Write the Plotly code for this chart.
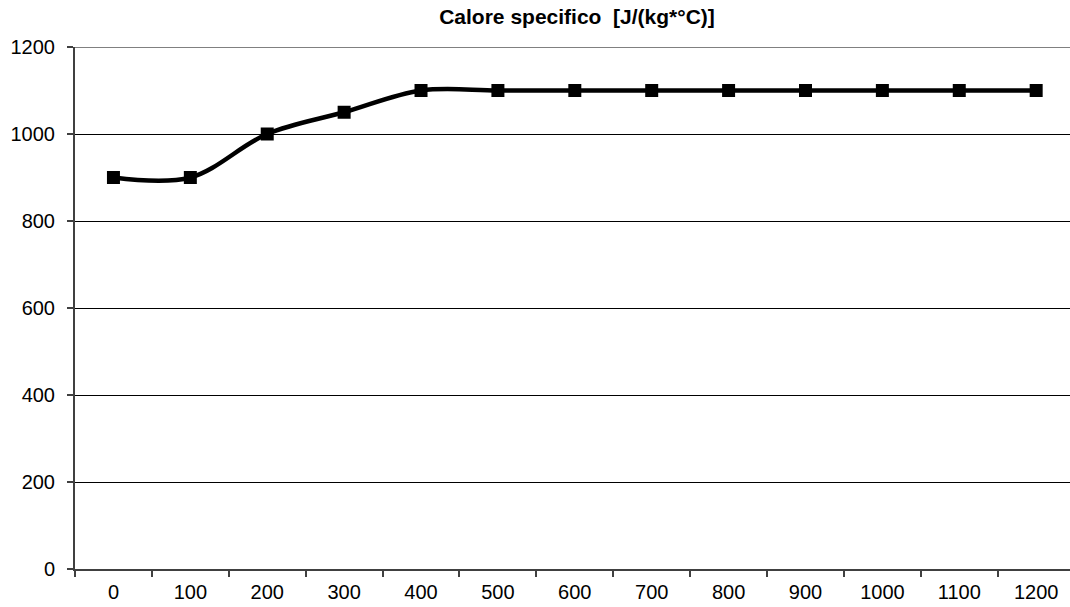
import plotly.graph_objects as go

categories = ["0", "100", "200", "300", "400", "500", "600", "700", "800", "900", "1000", "1100", "1200"]
calore = [900, 900, 1000, 1050, 1100, 1100, 1100, 1100, 1100, 1100, 1100, 1100, 1100]
y_ticks = [0, 200, 400, 600, 800, 1000, 1200]

fig = go.Figure()
fig.add_trace(go.Scatter(
    x=categories, y=calore, mode="lines+markers",
    line=dict(color="black", width=4.5, shape="spline", smoothing=1.0),
    marker=dict(symbol="square", size=13, color="black"),
    showlegend=False,
))

fig.update_layout(
    width=1070, height=607,
    margin=dict(l=75, r=0, t=47, b=38),
    paper_bgcolor="white", plot_bgcolor="white",
    font=dict(family="Liberation Sans, Arial, sans-serif", size=20, color="black"),
    title=dict(text="<b>Calore specifico  [J/(kg*°C)]</b>", x=577/1070, xanchor="center",
               y=1 - 17/607, yanchor="middle", font=dict(size=21)),
    xaxis=dict(type="category", range=[-0.5, 12.44], tickson="boundaries",
               ticks="outside", ticklen=6, tickcolor="#404040", tickwidth=1.5,
               showline=True, linecolor="#404040", linewidth=2, showgrid=False,
               zeroline=False, tickfont=dict(size=20), ticklabelstandoff=4),
    yaxis=dict(range=[0, 1200], tickvals=y_ticks, ticks="outside", ticklen=6,
               tickcolor="#404040", tickwidth=1.5, showline=True, linecolor="#404040",
               linewidth=2, showgrid=True, gridcolor="black", gridwidth=1,
               zeroline=False, tickfont=dict(size=20), ticklabelstandoff=8),
    shapes=[dict(type="line", xref="paper", yref="y", x0=0, x1=1, y0=1200, y1=1200,
                 line=dict(color="#808080", width=2), layer="above")],
)

fig.write_html("out.html")
